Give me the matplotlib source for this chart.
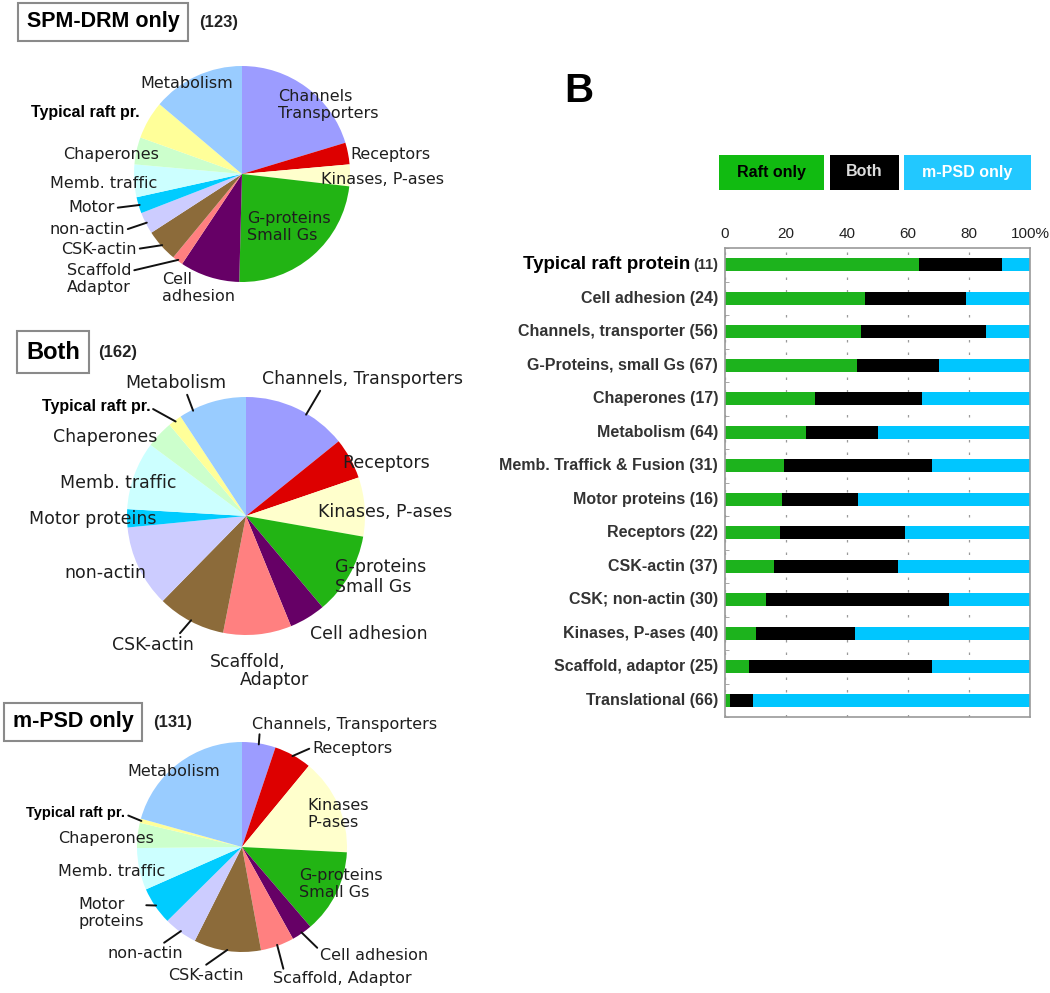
import numpy as np
import matplotlib
matplotlib.use("Agg")
import matplotlib.pyplot as plt
from matplotlib.patches import Rectangle

plt.rcParams['font.family'] = ['Liberation Sans', 'DejaVu Sans']

W, H = 1050, 993

# pie categories, clockwise from 12 o'clock
pie_cats = ['Channels', 'Receptors', 'Kinases', 'G-proteins', 'Cell adhesion',
            'Scaffold', 'CSK-actin', 'non-actin', 'Motor', 'Memb. traffic',
            'Chaperones', 'Typical raft', 'Metabolism']
pie_colors = ['#9c9cff', '#dd0000', '#ffffcc', '#22b414', '#660066',
              '#ff8080', '#8c6b3a', '#ccccff', '#00ccff', '#ccffff',
              '#ccffcc', '#ffff99', '#99ccff']
spm_counts = [25, 4, 4, 29, 11, 2, 6, 4, 3, 6, 5, 7, 17]
both_counts = [23, 9, 13, 18, 8, 15, 15, 18, 4, 15, 6, 3, 15]
mpsd_counts = [8, 9, 23, 20, 5, 8, 16, 8, 9, 10, 6, 1, 32]
pie_titles = ['SPM-DRM only', 'Both', 'm-PSD only']
pie_totals = [123, 162, 131]

# bar chart (B)
bar_names = ['Typical raft protein', 'Cell adhesion', 'Channels, transporter',
             'G-Proteins, small Gs', 'Chaperones', 'Metabolism',
             'Memb. Traffick & Fusion', 'Motor proteins', 'Receptors',
             'CSK-actin', 'CSK; non-actin', 'Kinases, P-ases',
             'Scaffold, adaptor', 'Translational']
bar_totals = [11, 24, 56, 67, 17, 64, 31, 16, 22, 37, 30, 40, 25, 66]
raft_only = [7, 11, 25, 29, 5, 17, 6, 3, 4, 6, 4, 4, 2, 1]
in_both = [3, 8, 23, 18, 6, 15, 15, 4, 9, 15, 18, 13, 15, 5]
legend_names = ['Raft only', 'Both', 'm-PSD only']
pct_ticks = [0, 20, 40, 60, 80, 100]
pct_labels = ['0', '20', '40', '60', '80', '100%']

fig = plt.figure(figsize=(10.5, 9.93), dpi=100)


def fx(x):
    return x / W


def fy(y):
    return 1 - y / H


def pie_panel(counts, cx, cy, r, labels, fs):
    ax = fig.add_axes([fx(cx - r), fy(cy + r), 2 * r / W, 2 * r / H])
    wedges, _ = ax.pie(counts, colors=pie_colors, startangle=90, counterclock=False,
                       radius=1, wedgeprops=dict(linewidth=0))
    ax.set_xlim(-1, 1)
    ax.set_ylim(-1, 1)
    ax.set_axis_off()
    for lab in labels:
        idx, txt, x, y, ha, lead, bold = lab[:7]
        extra = lab[7] if len(lab) > 7 else {}
        if bold:
            kw = dict(fontsize=bold, fontweight='bold', color='black',
                      family=['Liberation Sans', 'DejaVu Sans'])
        else:
            kw = dict(fontsize=fs, color='#1e1e1e', family=['DejaVu Sans'])
        if lead:
            w = wedges[idx]
            f = extra.get('frac', 0.5)
            a = np.deg2rad(w.theta1 + f * (w.theta2 - w.theta1))
            ax.annotate(txt, xy=(0.99 * np.cos(a), 0.99 * np.sin(a)), xycoords='data',
                        xytext=(fx(x), fy(y)), textcoords='figure fraction',
                        ha=ha, va='center', annotation_clip=False,
                        arrowprops=dict(arrowstyle='-', color='#111111', lw=1.4,
                                        shrinkA=0, shrinkB=0,
                                        relpos=extra.get('rel', (0.5, 0.5))), **kw)
        else:
            fig.text(fx(x), fy(y), txt, ha=ha, va='center', **kw)


def title_box(title, total, x, y, fs, xn):
    fig.text(fx(x), fy(y), title, ha='left', va='center', fontsize=fs, fontweight='bold',
             bbox=dict(boxstyle='square,pad=0.4', fc='white', ec='#8a8a8a', lw=1.5))
    fig.text(fx(xn), fy(y), f"({total})", ha='left', va='center', fontsize=12,
             fontweight='bold', color='#222222')


# --- SPM-DRM only ---
spm_labels = [
    (0, 'Channels\nTransporters', 278, 105, 'left', False, 0),
    (1, 'Receptors', 350, 155, 'left', False, 0),
    (2, 'Kinases, P-ases', 321, 180, 'left', False, 0),
    (3, 'G-proteins\nSmall Gs', 247, 227, 'left', False, 0),
    (4, 'Cell\nadhesion', 162, 288, 'left', False, 0),
    (5, 'Scaffold\nAdaptor', 67, 279, 'left', True, 0, {'rel': (1, 0.75)}),
    (6, 'CSK-actin', 137, 249, 'right', True, 0, {'rel': (1, 0.5)}),
    (7, 'non-actin', 125, 230, 'right', True, 0, {'rel': (1, 0.5)}),
    (8, 'Motor', 115, 208, 'right', True, 0, {'rel': (1, 0.5)}),
    (9, 'Memb. traffic', 104, 183, 'center', False, 0),
    (10, 'Chaperones', 111, 154, 'center', False, 0),
    (11, 'Typical raft pr.', 85, 113, 'center', False, 11.5),
    (12, 'Metabolism', 187, 83, 'center', False, 0),
]
pie_panel(spm_counts, 242, 174, 108, spm_labels, 11.5)
title_box(pie_titles[0], pie_totals[0], 27, 22, 15.5, 199)

# --- Both ---
both_labels = [
    (0, 'Channels, Transporters', 362, 379, 'center', True, 0, {'rel': (0.3, 0), 'frac': 0.4}),
    (1, 'Receptors', 342, 463, 'left', False, 0),
    (2, 'Kinases, P-ases', 318, 512, 'left', False, 0),
    (3, 'G-proteins\nSmall Gs', 335, 577, 'left', False, 0),
    (4, 'Cell adhesion', 310, 634, 'left', False, 0),
    (5, 'Scaffold,', 210, 662, 'left', False, 0),
    (5, 'Adaptor', 240, 680, 'left', False, 0),
    (6, 'CSK-actin', 153, 645, 'center', True, 0, {'rel': (0.8, 1)}),
    (7, 'non-actin', 105, 573, 'center', False, 0),
    (8, 'Motor proteins', 93, 519, 'center', False, 0),
    (9, 'Memb. traffic', 118, 483, 'center', False, 0),
    (10, 'Chaperones', 105, 437, 'center', False, 0),
    (11, 'Typical raft pr.', 96, 406, 'center', True, 11.5, {'rel': (1, 0.4)}),
    (12, 'Metabolism', 176, 383, 'center', True, 0, {'rel': (0.6, 0), 'frac': 0.8}),
]
pie_panel(both_counts, 246, 516, 119, both_labels, 12.5)
title_box(pie_titles[1], pie_totals[1], 26, 352, 17, 98)

# --- m-PSD only ---
mpsd_labels = [
    (0, 'Channels, Transporters', 345, 724, 'center', True, 0, {'rel': (0.04, 0.1)}),
    (1, 'Receptors', 312, 749, 'left', True, 0, {'rel': (0, 0.6)}),
    (2, 'Kinases\nP-ases', 307, 814, 'left', False, 0),
    (3, 'G-proteins\nSmall Gs', 299, 884, 'left', False, 0),
    (4, 'Cell adhesion', 320, 955, 'left', True, 0, {'rel': (0, 0.8)}),
    (5, 'Scaffold, Adaptor', 273, 979, 'left', True, 0, {'rel': (0.08, 1)}),
    (6, 'CSK-actin', 206, 975, 'center', True, 0, {'rel': (0.45, 1)}),
    (7, 'non-actin', 145, 953, 'center', True, 0, {'rel': (0.7, 1)}),
    (8, 'Motor\nproteins', 78, 913, 'left', True, 0, {'rel': (0.87, 0.75)}),
    (9, 'Memb. traffic', 112, 871, 'center', False, 0),
    (10, 'Chaperones', 106, 838, 'center', False, 0),
    (11, 'Typical raft pr.', 76, 813, 'center', True, 10.5, {'rel': (1, 0.4)}),
    (12, 'Metabolism', 174, 771, 'center', False, 0),
]
pie_panel(mpsd_counts, 242, 847, 105, mpsd_labels, 11.5)
title_box(pie_titles[2], pie_totals[2], 13, 722, 15.5, 153)

# --- B: stacked percentage bars ---
fig.text(fx(564), fy(91), 'B', fontsize=29, fontweight='bold', ha='left', va='center')

green, cyan = '#1db31d', '#00c6ff'
leg_boxes = [(719, 824, '#11bb11', 'black'), (830, 899, 'black', '#dddddd'),
             (904, 1031, '#22c8ff', 'white')]
for name, (x0, x1, fc, tc) in zip(legend_names, leg_boxes):
    fig.patches.append(Rectangle((fx(x0), fy(190)), (x1 - x0) / W, 35 / H,
                                 transform=fig.transFigure, fc=fc, ec='none'))
    fig.text(fx((x0 + x1) / 2), fy(172), name, ha='center', va='center',
             fontsize=11.5, fontweight='bold', color=tc)

ax = fig.add_axes([fx(725), fy(717), 305 / W, 469 / H])
y = np.arange(len(bar_names))
tot = np.array(bar_totals, dtype=float)
raft_pct = 100 * np.array(raft_only) / tot
both_pct = 100 * np.array(in_both) / tot
psd_pct = 100 - raft_pct - both_pct
ax.barh(y, raft_pct, height=0.4, color=green)
ax.barh(y, both_pct, left=raft_pct, height=0.4, color='black')
ax.barh(y, psd_pct, left=raft_pct + both_pct, height=0.4, color=cyan)
ax.set_xlim(0, 100)
ax.set_ylim(len(bar_names) - 0.5, -0.5)

ax.xaxis.tick_top()
ax.set_xticks(pct_ticks)
ax.set_xticklabels(pct_labels)
ax.tick_params(axis='x', length=0, pad=5, labelsize=11, labelcolor='#222222')
ax.set_yticks([])
ax.set_yticks(np.arange(-0.5, len(bar_names), 1), minor=True)
ax.tick_params(axis='y', which='minor', direction='in', length=3, color='#999999')
ax.xaxis.grid(True, linestyle=(0, (2, 8)), color='#9a9a9a', lw=0.9)
ax.set_axisbelow(True)
for s in ax.spines.values():
    s.set_color('#9a9a9a')
    s.set_linewidth(1.2)

for i, (name, n) in enumerate(zip(bar_names, bar_totals)):
    if i == 0:
        t = ax.annotate(f"({n})", xy=(0, i), xycoords=('axes fraction', 'data'),
                        xytext=(-5, 0), textcoords='offset points', ha='right', va='center',
                        fontsize=10.5, fontweight='bold', color='#333333')
        ax.annotate(name, xy=(0, 0.5), xycoords=t, xytext=(-2, 0),
                    textcoords='offset points', ha='right', va='center',
                    fontsize=13.5, fontweight='bold', color='black')
    else:
        ax.annotate(f"{name} ({n})", xy=(0, i), xycoords=('axes fraction', 'data'),
                    xytext=(-5, 0), textcoords='offset points', ha='right', va='center',
                    fontsize=11.5, fontweight='bold', color='#333333')

fig.savefig('out.png', dpi=100)
